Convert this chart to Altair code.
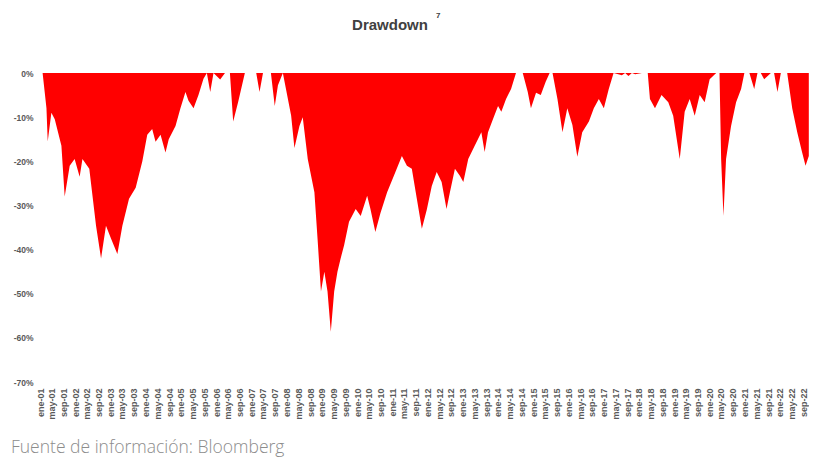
import altair as alt
import pandas as pd

TITLE = "Drawdown"
TITLE_NOTE = "7"
SOURCE = "Fuente de información: Bloomberg"
MONTHS_ES = ["ene", "feb", "mar", "abr", "may", "jun", "jul", "ago", "sep", "oct", "nov", "dic"]

dates = [
    "2001-01-01", "2001-01-28", "2001-03-09", "2001-03-22", "2001-04-29", "2001-06-03",
    "2001-08-11", "2001-09-14", "2001-11-05", "2001-12-26", "2002-02-16", "2002-03-17",
    "2002-05-27", "2002-08-05", "2002-09-26", "2002-11-16", "2003-01-07", "2003-03-14",
    "2003-05-05", "2003-07-13", "2003-09-20", "2003-11-28", "2004-01-18", "2004-03-09",
    "2004-04-13", "2004-06-04", "2004-07-25", "2004-08-28", "2004-11-06", "2004-12-27",
    "2005-02-17", "2005-03-21", "2005-05-12", "2005-07-02", "2005-08-23", "2005-09-27",
    "2005-11-01", "2005-12-05", "2006-02-12", "2006-04-03", "2006-05-24", "2006-06-27",
    "2006-08-18", "2006-10-26", "2007-02-21", "2007-03-27", "2007-05-02", "2007-07-23",
    "2007-09-01", "2007-10-04", "2007-11-24", "2008-02-18", "2008-03-23", "2008-05-14",
    "2008-06-17", "2008-08-08", "2008-10-16", "2008-11-19", "2008-12-23", "2009-01-27",
    "2009-03-01", "2009-04-04", "2009-05-09", "2009-06-12", "2009-07-15", "2009-08-20",
    "2009-10-10", "2009-12-18", "2010-02-08", "2010-04-16", "2010-05-20", "2010-07-10",
    "2010-09-01", "2010-11-09", "2011-02-03", "2011-04-11", "2011-06-02", "2011-07-23",
    "2011-09-13", "2011-11-04", "2011-12-25", "2012-02-15", "2012-04-06", "2012-05-27",
    "2012-07-17", "2012-08-21", "2012-10-12", "2012-12-02", "2013-01-07", "2013-02-27",
    "2013-05-05", "2013-07-13", "2013-08-16", "2013-09-20", "2013-11-11", "2014-01-02",
    "2014-02-05", "2014-03-26", "2014-05-17", "2014-07-07", "2014-09-15", "2014-11-06",
    "2014-12-09", "2015-01-31", "2015-03-21", "2015-05-11", "2015-06-21", "2015-07-21",
    "2015-09-10", "2015-11-01", "2015-12-21", "2016-02-12", "2016-04-03", "2016-05-24",
    "2016-08-01", "2016-09-21", "2016-11-12", "2017-01-03", "2017-02-23", "2017-04-14",
    "2017-07-09", "2017-08-12", "2017-09-15", "2017-10-21", "2017-11-24", "2018-02-02",
    "2018-04-03", "2018-04-26", "2018-06-17", "2018-08-24", "2018-11-02", "2018-12-23",
    "2019-03-01", "2019-04-21", "2019-06-12", "2019-08-03", "2019-09-24", "2019-11-14",
    "2020-01-05", "2020-03-13", "2020-04-16", "2020-05-03", "2020-05-27", "2020-06-23",
    "2020-08-14", "2020-10-05", "2020-11-26", "2020-12-30", "2021-02-20", "2021-04-11",
    "2021-05-15", "2021-06-18", "2021-07-23", "2021-10-01", "2021-11-03", "2021-12-08",
    "2022-01-12", "2022-03-19", "2022-05-10", "2022-07-01", "2022-08-21", "2022-09-25",
    "2022-10-29",
]

drawdown = [
    0, 0, -8, -15.5, -9, -10.5,
    -16.5, -28, -21, -19.5, -23.5, -19.5,
    -21.7, -34.6, -42, -34.6, -37.5, -41,
    -34.6, -28.5, -26, -20, -14, -12.7,
    -15.6, -14, -18, -15, -12, -8,
    -4.3, -6.3, -8, -5, -1.3, 0,
    -4.3, 0, -1.5, 0, 0, -11,
    -6.5, 0, 0, -4.3, 0, 0,
    -7.5, -2.8, 0, -9.7, -17, -12,
    -10, -19.5, -27, -38, -49.5, -45,
    -49.5, -58.6, -49.5, -45, -42, -39,
    -33.7, -30.8, -32.4, -27.8, -30.8, -36,
    -31.7, -27, -22.4, -18.8, -21, -21.7,
    -28.5, -35.3, -31, -25.6, -22.4, -24.7,
    -30.8, -27, -21.7, -23.3, -24.7, -19.5,
    -16.5, -13.4, -17.9, -13.4, -10.4, -7.5,
    -8.8, -5.9, -3.6, 0, 0, -4.3,
    -8, -4.5, -5, -2, 0, 0,
    -5.9, -13.4, -8, -11.8, -19, -13.4,
    -11, -8, -5.9, -8, -3.6, 0,
    -0.5, 0, -0.7, 0, -0.3, 0,
    0, -5.9, -8, -5, -6.6, -9.7,
    -19.5, -8.8, -5.9, -9.7, -5, -6.6,
    -1.4, 0, 0, -19.5, -32.4, -19.5,
    -12, -6.6, -3.6, 0, 0, -3.6,
    0, 0, -1.4, 0, 0, -4.3,
    0, 0, -8, -13.4, -18, -21,
    -18.8,
]

y_ticks = [0, -10, -20, -30, -40, -50, -60, -70]
label_years = list(range(2001, 2023))
label_months = [1, 5, 9]

df = pd.DataFrame({"fecha": dates, "dd": drawdown})

x_values = [alt.DateTime(year=y, month=m, date=1, utc=True)
            for y in label_years for m in label_months]

month_arr = "[" + ",".join("'%s'" % m for m in MONTHS_ES) + "]"
x_label_expr = month_arr + "[utcmonth(datum.value)] + '-' + utcFormat(datum.value, '%y')"

FONT = "Liberation Sans"

area = alt.Chart(df).mark_area(color="#FF0000", interpolate="linear").encode(
    x=alt.X(
        "fecha:T",
        scale=alt.Scale(
            type="utc",
            domain=[alt.DateTime(year=2001, month=1, date=1, utc=True),
                    alt.DateTime(year=2022, month=10, date=31, utc=True)],
        ),
        axis=alt.Axis(
            values=x_values,
            labelExpr=x_label_expr,
            labelAngle=-90,
            labelFontSize=9,
            labelFont=FONT,
            labelFontWeight="bold",
            labelColor="#595959",
            labelPadding=6,
            labelOverlap=False,
            domain=False,
            ticks=False,
            grid=False,
            title=None,
        ),
    ),
    y=alt.Y(
        "dd:Q",
        scale=alt.Scale(domain=[-70, 0], nice=False),
        axis=alt.Axis(
            values=y_ticks,
            labelExpr="datum.value + '%'",
            labelFontSize=8.5,
            labelFont=FONT,
            labelFontWeight="bold",
            labelColor="#595959",
            labelPadding=7,
            domain=False,
            ticks=False,
            grid=False,
            title=None,
        ),
    ),
)

title_df = pd.DataFrame({"t": [TITLE]})
title = alt.Chart(title_df).mark_text(
    font=FONT, fontSize=15, fontWeight="bold", color="#404040",
    align="center", baseline="middle",
).encode(text="t:N", x=alt.value(350), y=alt.value(-48))

note_df = pd.DataFrame({"t": [TITLE_NOTE]})
note = alt.Chart(note_df).mark_text(
    font=FONT, fontSize=8, fontWeight="bold", color="#404040",
    align="left", baseline="middle",
).encode(text="t:N", x=alt.value(396), y=alt.value(-57))

src_df = pd.DataFrame({"t": [SOURCE]})
source = alt.Chart(src_df).mark_text(
    font="Open Sans", fontSize=17.5, fontWeight=300, color="#8c8c8c",
    align="left", baseline="alphabetic",
).encode(text="t:N", x=alt.value(-29), y=alt.value(380))

chart = alt.layer(area, title, note, source).properties(
    width=769,
    height=309,
    autosize=alt.AutoSizeParams(type="none"),
    padding={"left": 32, "top": 65, "right": 0, "bottom": 80},
    background="white",
).configure_view(stroke=None)

chart.save("out.html", embed_options={"renderer": "svg", "actions": False})
